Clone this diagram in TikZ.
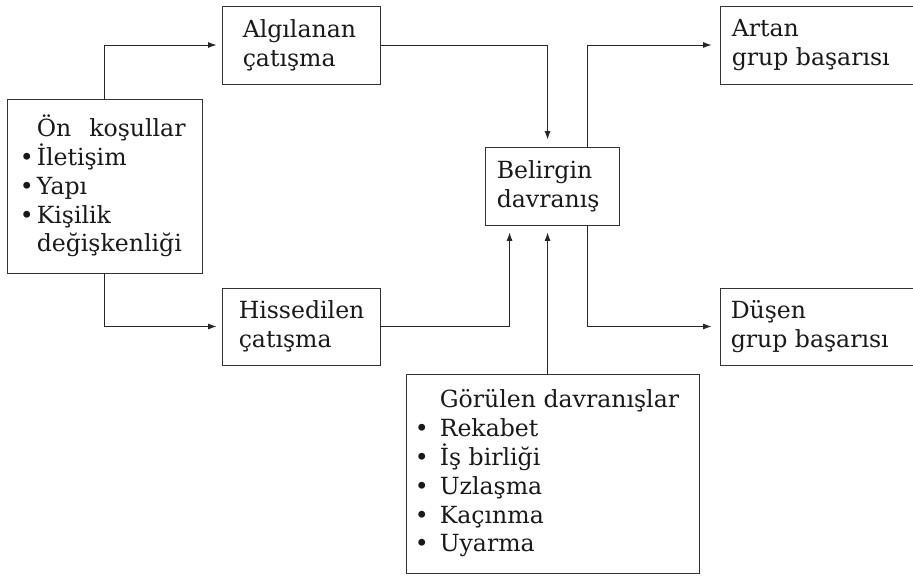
\documentclass[tikz,border=0pt]{standalone}
\usepackage{fontspec}
\setmainfont{DejaVu Serif}
\usetikzlibrary{arrows.meta}
\newcommand\mybulA{\llap{\textbullet\hspace{3pt}}}
\newcommand\mybulB{\llap{\textbullet\hspace{11pt}}}
\begin{document}
\begin{tikzpicture}[x=1pt,y=-1pt,
  box/.style={draw=black!80, line width=0.9pt, inner sep=0pt},
  txt/.style={anchor=west, align=left, inner sep=0pt, text=black!90,
    font=\fontsize{23.6}{28.8}\selectfont},
  conn/.style={draw=black!85, line width=0.9pt},
  arr/.style={conn, -{Latex[length=8.5pt,width=6pt]}}
]
\useasboundingbox (0,0) rectangle (913,576);
% boxes
\node[box, minimum width=195pt, minimum height=174pt] (on)  at (104.5,186) {};
\node[box, minimum width=158pt, minimum height=78pt]  (alg) at (301,45) {};
\node[box, minimum width=158pt, minimum height=77pt]  (his) at (301,326.5) {};
\node[box, minimum width=134pt, minimum height=78pt]  (bel) at (552,186) {};
\node[box, minimum width=194pt, minimum height=78pt]  (art) at (817,45) {};
\node[box, minimum width=194pt, minimum height=77pt]  (dus) at (817,326.5) {};
\node[box, minimum width=293pt, minimum height=199pt] (gor) at (552.5,473.5) {};
% texts
\node[txt] (ont) at ([xshift=30pt]on.west) {Ön\hspace{18pt}koşullar\\\mybulA İletişim\\\mybulA Yapı\\\mybulA Kişilik\\değişkenliği};
\node[txt] (algt) at ([xshift=21pt]alg.west) {Algılanan\\çatışma};
\node[txt] (hist) at ([xshift=17pt]his.west) {Hissedilen\\çatışma};
\node[txt] (belt) at ([xshift=12pt]bel.west) {Belirgin\\davranış};
\node[txt] (artt) at ([xshift=12pt]art.west) {Artan\\grup başarısı};
\node[txt] (dust) at ([xshift=11pt]dus.west) {Düşen\\grup başarısı};
\node[txt] (gort) at ([xshift=34pt]gor.west) {Görülen davranışlar\\\mybulB Rekabet\\\mybulB İş birliği\\\mybulB Uzlaşma\\\mybulB Kaçınma\\\mybulB Uyarma};
% connectors
\draw[arr, shorten >=5pt] (on.north) |- (alg.west);
\draw[arr, shorten >=5pt] (on.south) |- (his.west);
\draw[arr, shorten >=7pt] (alg.east) -| ([xshift=63pt]bel.north west);
\draw[arr, shorten >=7pt] (his.east) -| ([xshift=25pt]bel.south west);
\draw[arr, shorten >=7pt] ([xshift=142pt]gor.north west) -- ([xshift=63pt]bel.south west);
\draw[arr, shorten >=8pt] ([xshift=103pt]bel.north west) |- (art.west);
\draw[arr, shorten >=8pt] ([xshift=103pt]bel.south west) |- (dus.west);
\end{tikzpicture}
\end{document}
